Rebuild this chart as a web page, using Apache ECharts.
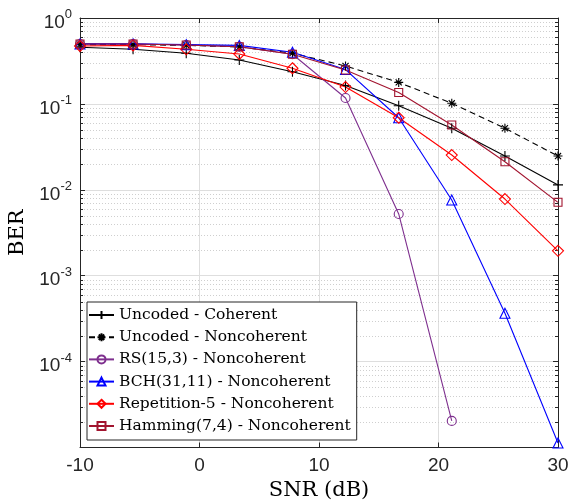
<!DOCTYPE html>
<html><head><meta charset="utf-8">
<script src="https://cdn.jsdelivr.net/npm/echarts@6/dist/echarts.min.js"></script>
<style>html,body{margin:0;padding:0;background:#fff}#c{width:569px;height:502px}</style>
</head><body><div id="c"></div>
<script>
// ---- data ----
const snr = [-10, -5.56, -1.11, 3.33, 7.78, 12.22, 16.67, 21.11, 25.56, 30];
const uncodedCoherent = [0.456, 0.432, 0.388, 0.324, 0.237, 0.164, 0.0953, 0.052, 0.0247, 0.0114];
const uncodedNoncoherent = [0.49, 0.49, 0.48, 0.46, 0.39, 0.276, 0.178, 0.1016, 0.052, 0.0247];
const rs153 = [0.498, 0.498, 0.485, 0.463, 0.378, 0.117, 0.00523, 2.04e-5];
const bch3111 = [0.5, 0.5, 0.49, 0.48, 0.399, 0.251, 0.069, 0.0076, 3.65e-4, 1.13e-5];
const repetition5 = [0.472, 0.48, 0.432, 0.381, 0.26, 0.157, 0.069, 0.0254, 0.00781, 0.00195];
const hamming74 = [0.498, 0.498, 0.485, 0.463, 0.378, 0.248, 0.136, 0.0568, 0.0212, 0.00715];
const seriesNames = ['Uncoded - Coherent', 'Uncoded - Noncoherent', 'RS(15,3) - Noncoherent',
  'BCH(31,11) - Noncoherent', 'Repetition-5 - Noncoherent', 'Hamming(7,4) - Noncoherent'];
const xTicks = [-10, 0, 10, 20, 30];
const yDecades = [-5, -4, -3, -2, -1, 0];

// ---- styling ----
const AX = '#262626';
const SANS = 'Liberation Sans, Arial, sans-serif';
const SERIF = 'DejaVu Serif, serif';
const plusPath = 'path://M5,0L5,10M0,5L10,5';
const starPath = 'path://M5,0L5,10M0,5L10,5M1.6,1.6L8.4,8.4M1.6,8.4L8.4,1.6';

function pairs(vals) { return vals.map((v, i) => [snr[i], v]); }
function mkSeries(name, vals, color, symbol, size, dashed) {
  return {
    name, type: 'line', data: pairs(vals), symbol, symbolSize: size,
    lineStyle: { color, width: 1.1, type: dashed ? [6, 4] : 'solid' },
    itemStyle: { color: 'rgba(0,0,0,0)', borderColor: color, borderWidth: 1.1 },
    emphasis: { disabled: true }, z: 3, clip: false
  };
}

const chart = echarts.init(document.getElementById('c'), null, { renderer: 'canvas' });
const yLabelFmt = v => {
  const e = Math.round(Math.log10(v));
  if (e === -5) return '';
  return '{b|10}{s|' + e + '}';
};
const option = {
  animation: false,
  backgroundColor: '#fff',
  grid: { left: 80, right: 11, top: 18, bottom: 54.5, containLabel: false, outerBoundsMode: 'none' },
  xAxis: [{
    type: 'value', min: -10, max: 30, interval: 10, position: 'bottom',
    name: 'SNR (dB)', nameLocation: 'middle', nameGap: 33,
    nameTextStyle: { fontFamily: SERIF, fontSize: 21, color: '#000' },
    axisLine: { show: true, onZero: false, lineStyle: { color: AX, width: 1 } },
    axisTick: { show: true, inside: true, length: 5, lineStyle: { color: AX } },
    axisLabel: { fontFamily: SANS, fontSize: 19, color: AX, margin: 9 },
    splitLine: { show: true, lineStyle: { color: '#dedede', width: 1 } }
  }, {
    type: 'value', min: -10, max: 30, interval: 10, position: 'top',
    axisLine: { show: true, onZero: false, lineStyle: { color: AX, width: 1 } },
    axisTick: { show: true, inside: true, length: 5, lineStyle: { color: AX } },
    axisLabel: { show: false }, splitLine: { show: false }
  }],
  yAxis: [{
    type: 'log', logBase: 10, min: 1e-5, max: 1, splitNumber: 5, position: 'left',
    name: 'BER', nameLocation: 'middle', nameGap: 49, nameRotate: 90,
    nameTextStyle: { fontFamily: SERIF, fontSize: 21, color: '#000' },
    axisLine: { show: true, onZero: false, lineStyle: { color: AX, width: 1 } },
    axisTick: { show: true, inside: true, length: 5, lineStyle: { color: AX } },
    axisLabel: {
      formatter: yLabelFmt, margin: 8, padding: [4, 0, 0, 0],
      rich: {
        b: { fontFamily: SANS, fontSize: 19, color: AX, lineHeight: 24, verticalAlign: 'bottom' },
        s: { fontFamily: SANS, fontSize: 13, color: AX, lineHeight: 24, verticalAlign: 'top' }
      }
    },
    splitLine: { show: true, lineStyle: { color: '#dedede', width: 1 } }
  }, {
    type: 'log', logBase: 10, min: 1e-5, max: 1, splitNumber: 5, position: 'right',
    axisLine: { show: true, onZero: false, lineStyle: { color: AX, width: 1 } },
    axisTick: { show: true, inside: true, length: 5, lineStyle: { color: AX } },
    axisLabel: { show: false }, splitLine: { show: false }
  }],
  legend: {
    orient: 'vertical', left: 87, top: 302, data: seriesNames,
    backgroundColor: '#fff', borderColor: AX, borderWidth: 1, borderRadius: 0,
    padding: [2, 6, 3, 1], itemWidth: 25, itemHeight: 10, itemGap: 0.2,
    textStyle: { fontFamily: SERIF, fontSize: 15.5, color: '#000', lineHeight: 22 },
    selectedMode: false, z: 10
  },
  series: [
    mkSeries(seriesNames[0], uncodedCoherent, '#000000', plusPath, 10, false),
    mkSeries(seriesNames[1], uncodedNoncoherent, '#000000', starPath, 9, true),
    mkSeries(seriesNames[2], rs153, '#7E2F8E', 'circle', 9, false),
    mkSeries(seriesNames[3], bch3111, '#0000FF', 'triangle', 10, false),
    mkSeries(seriesNames[4], repetition5, '#FF0000', 'diamond', 11, false),
    mkSeries(seriesNames[5], hamming74, '#A2142F', 'rect', 8, false)
  ]
};
chart.setOption(option);

// minor grid lines and minor ticks at 2..9 x 10^k, placed via the axis scales
const minorVals = [];
yDecades.slice(0, -1).forEach(k => { for (let m = 2; m <= 9; m++) minorVals.push(m * Math.pow(10, k)); });
const xL = chart.convertToPixel({ xAxisIndex: 0 }, xTicks[0]);
const xR = chart.convertToPixel({ xAxisIndex: 0 }, xTicks[xTicks.length - 1]);
const g = [];
minorVals.forEach(v => {
  const y = Math.round(chart.convertToPixel({ yAxisIndex: 0 }, v)) + 0.5;
  g.push({ type: 'line', silent: true, z: 0, shape: { x1: xL + 4, y1: y, x2: xR - 4, y2: y },
    style: { stroke: '#cfcfcf', lineWidth: 1, lineDash: [1, 2] } });
  g.push({ type: 'line', silent: true, z: 1, shape: { x1: xL, y1: y, x2: xL + 3, y2: y },
    style: { stroke: AX, lineWidth: 1 } });
  g.push({ type: 'line', silent: true, z: 1, shape: { x1: xR - 3, y1: y, x2: xR, y2: y },
    style: { stroke: AX, lineWidth: 1 } });
});
chart.setOption({ graphic: g });
</script>
</body></html>
